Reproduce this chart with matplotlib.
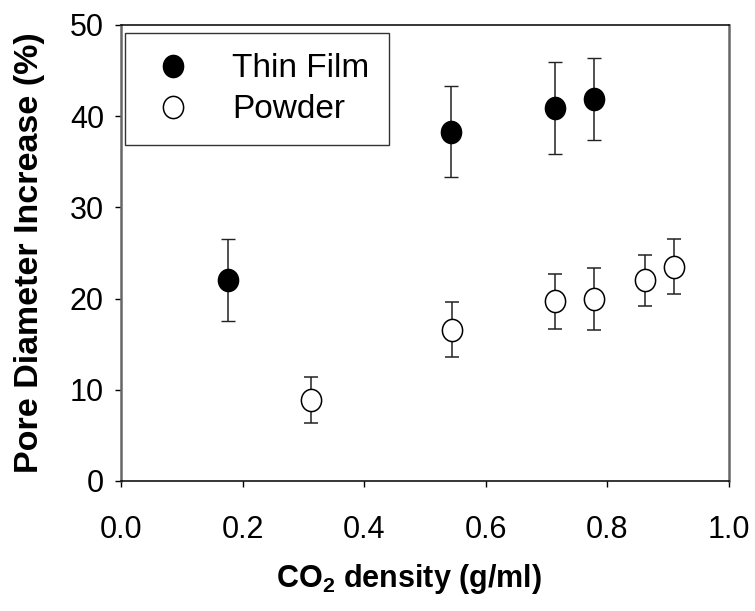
import matplotlib
matplotlib.use('Agg')
import matplotlib.pyplot as plt
from matplotlib.lines import Line2D
from matplotlib.path import Path
from matplotlib.transforms import Affine2D

plt.rcParams['font.family'] = ['Liberation Sans', 'DejaVu Sans']
plt.rcParams['mathtext.fontset'] = 'custom'
plt.rcParams['mathtext.rm'] = 'Liberation Sans:bold'
plt.rcParams['mathtext.bf'] = 'Liberation Sans:bold'

# CO2 density (g/ml) vs pore diameter increase (%)
film_density = [0.176, 0.543, 0.714, 0.778]
film_increase = [22.0, 38.3, 40.9, 41.9]
film_err = [4.5, 5.0, 5.0, 4.5]

powder_density = [0.312, 0.545, 0.714, 0.778, 0.862, 0.909]
powder_increase = [8.9, 16.6, 19.7, 20.0, 22.0, 23.5]
powder_err = [2.5, 3.0, 3.0, 3.4, 2.8, 3.0]

# slightly tall ellipse marker
oval = Path.unit_circle().transformed(Affine2D().scale(0.91, 1.0))

fig = plt.figure(figsize=(7.55, 6.11), dpi=100)
ax = fig.add_axes([0.1603, 0.2128, 0.8053, 0.7463])

err_kw = dict(ecolor='#222222', elinewidth=1.1, capsize=4.7, capthick=1.1, ls='none')
ax.errorbar(film_density, film_increase, yerr=film_err, marker=oval, ms=16,
            mfc='black', mec='black', mew=1.0, zorder=3, **err_kw)
ax.errorbar(powder_density, powder_increase, yerr=powder_err, marker=oval, ms=16,
            mfc='white', mec='black', mew=1.1, zorder=3, **err_kw)

ax.set_xlim(0, 1.0)
ax.set_ylim(0, 50)
ax.set_xticks([0.0, 0.2, 0.4, 0.6, 0.8, 1.0])
ax.set_xticklabels(['0.0', '0.2', '0.4', '0.6', '0.8', '1.0'])
ax.set_yticks([0, 10, 20, 30, 40, 50])
ax.tick_params(direction='out', length=4.3, width=1.0, labelsize=22, pad=8,
               top=False, right=False)
ax.tick_params(axis='x', pad=20)

for side in ['left', 'right']:
    ax.spines[side].set_color('#666666')
    ax.spines[side].set_linewidth(1.8)
for side in ['top', 'bottom']:
    ax.spines[side].set_color('black')
    ax.spines[side].set_linewidth(1.1)

ax.set_xlabel(r'CO$_2$ density (g/ml)', fontsize=22, fontweight='bold')
ax.xaxis.set_label_coords(0.474, -0.178)
ax.set_ylabel('Pore Diameter Increase (%)', fontsize=24.5, fontweight='bold', labelpad=18)

handles = [
    Line2D([], [], ls='none', marker=oval, ms=16, mfc='black', mec='black'),
    Line2D([], [], ls='none', marker=oval, ms=16, mfc='white', mec='black', mew=1.1),
]
leg = ax.legend(handles, ['Thin Film', 'Powder'], loc='upper left',
                bbox_to_anchor=(0.0066, 0.982), borderaxespad=0, fontsize=24,
                frameon=True, fancybox=False, borderpad=0.6, handlelength=1.68,
                handletextpad=0.93, labelspacing=0.3)
leg.get_frame().set_edgecolor('black')
leg.get_frame().set_linewidth(1.0)

fig.savefig('out.png', dpi=100)
